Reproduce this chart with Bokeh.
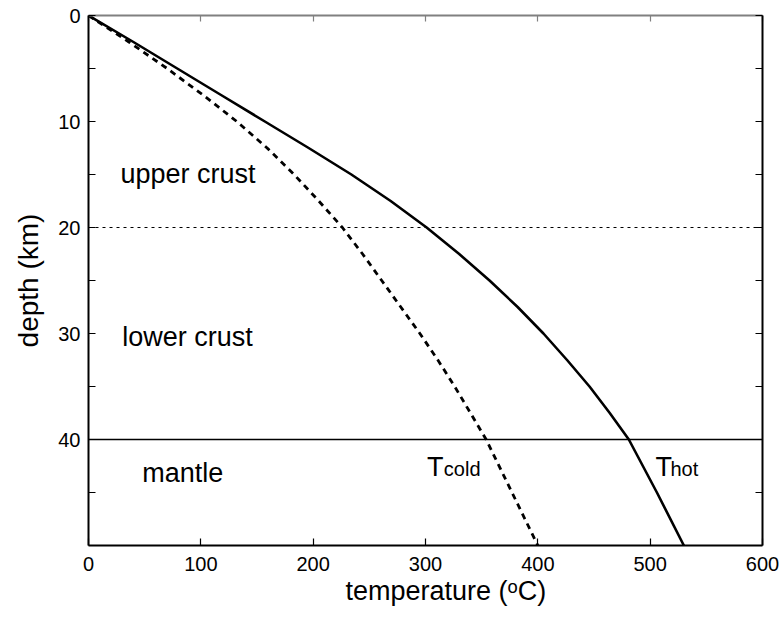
from bokeh.plotting import figure
from bokeh.models import Range1d, LinearAxis, FixedTicker, Span, Title
from bokeh.core.properties import value
from bokeh.embed import file_html
from bokeh.resources import INLINE

FONT = "Liberation Sans"

# ---- data ----
depth = [0, 2.5, 5, 7.5, 10, 12.5, 15, 17.5, 20, 22.5, 25, 27.5, 30, 32.5, 35, 37.5, 40, 45, 50]
t_hot = [0, 40, 79, 118, 157, 196, 234, 269, 301, 330, 357, 382, 405, 426, 446, 464, 481, 506, 530]
t_cold = [0, 36, 70, 102, 132, 159, 183, 205, 226, 244, 261, 278, 295, 311, 326, 340, 354, 377, 400]

crust_boundary = 20      # upper / lower crust (dotted)
moho = 40                # lower crust / mantle (solid)

x_ticks = [0, 100, 200, 300, 400, 500, 600]
y_ticks = [0, 10, 20, 30, 40]
y_minor = [5, 15, 25, 35, 45]

x_title = "temperature (ᵒC)"
y_title = "depth (km)"

zone_labels = ["upper crust", "lower crust", "mantle"]
zone_x = [28.5, 30, 47.8]
zone_y = [14.95, 30.3, 43.2]

curve_T = ["T", "T"]
curve_sub = ["cold", "hot"]
curve_x = [301.4, 504.8]
curve_sub_x = [316.3, 518.1]
curve_y = [42.6, 42.6]
curve_sub_y = [42.8, 42.8]

p = figure(width=780, height=624, output_backend="svg", toolbar_location=None,
           x_range=Range1d(0, 600), y_range=Range1d(50, 0),
           min_border_left=88, min_border_right=18, min_border_top=15, min_border_bottom=79,
           x_axis_location="below", y_axis_location="left")
p.outline_line_color = None
p.grid.visible = False
p.background_fill_color = "white"
p.border_fill_color = "white"

def style(ax, color="black", labels=True):
    ax.axis_line_color = color
    ax.axis_line_width = 2
    ax.major_tick_line_color = color
    ax.minor_tick_line_color = color
    ax.major_tick_line_width = 1.2
    ax.minor_tick_line_width = 1.2
    ax.major_tick_in = 7
    ax.major_tick_out = 0
    ax.minor_tick_in = 7
    ax.minor_tick_out = 0
    ax.major_label_text_font = FONT
    ax.major_label_text_font_size = "20px"
    ax.major_label_text_color = "black"
    ax.axis_label_text_font = FONT
    ax.axis_label_text_font_style = "normal"
    ax.axis_label_text_color = "black"
    if not labels:
        ax.major_label_standoff = 0
        ax.major_label_overrides = {t: "" for t in ax.ticker.ticks}

xa = p.xaxis[0]
xa.ticker = FixedTicker(ticks=x_ticks, minor_ticks=[])
style(xa)
xa.major_label_standoff = 11

ya = p.yaxis[0]
ya.ticker = FixedTicker(ticks=y_ticks, minor_ticks=y_minor)
style(ya)
ya.major_label_standoff = 8
ya.axis_label = y_title
ya.axis_label_text_font_size = "28px"
ya.axis_label_standoff = 11

top = LinearAxis(ticker=FixedTicker(ticks=x_ticks, minor_ticks=[]))
style(top, color="#808080", labels=False)
top.major_tick_in = 6
p.add_layout(top, "above")

right = LinearAxis(ticker=FixedTicker(ticks=y_ticks, minor_ticks=y_minor))
style(right, labels=False)
p.add_layout(right, "right")

# x-axis title below the axis, placed slightly right of centre as in the reference
p.add_layout(Title(text=x_title, align="left", offset=257, standoff=0,
                   text_font=FONT, text_font_size="27px", text_font_style="normal",
                   text_color="black"), "below")

p.add_layout(Span(location=crust_boundary, dimension="width", line_color="black",
                  line_width=1.2, line_dash="3 4"))
p.add_layout(Span(location=moho, dimension="width", line_color="black", line_width=1.5))

p.line(t_cold, depth, line_color="black", line_width=2.8, line_dash="6 5")
p.line(t_hot, depth, line_color="black", line_width=2.6)

p.text(x=zone_x, y=zone_y, text=zone_labels, text_font=value(FONT),
       text_font_size=value("27px"), text_baseline="alphabetic", text_color="black")
p.text(x=curve_x, y=curve_y, text=curve_T, text_font=value(FONT),
       text_font_size=value("27px"), text_baseline="alphabetic", text_color="black")
p.text(x=curve_sub_x, y=curve_sub_y, text=curve_sub, text_font=value(FONT),
       text_font_size=value("20px"), text_baseline="alphabetic", text_color="black")

open("out.html", "w").write(file_html(p, INLINE))
